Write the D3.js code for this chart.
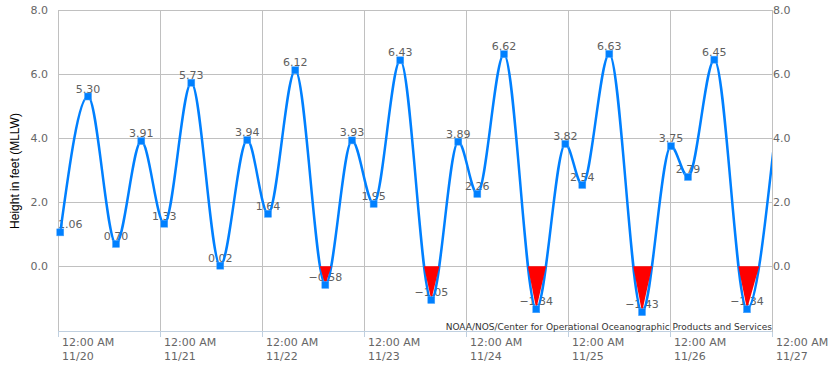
<!DOCTYPE html>
<html>
<head>
<meta charset="utf-8">
<script src="https://cdn.jsdelivr.net/npm/d3@7"></script>
<style>
  body { margin: 0; background: #fff; }
  #chart { width: 834px; height: 388px; }
  text { font-family: "DejaVu Sans", Verdana, sans-serif; }
</style>
</head>
<body>
<div id="chart"></div>
<script>
// tide predictions (high / low), 11/20 - 11/27
const tideTimes = [
    "11/20 00:32", "11/20 07:04", "11/20 13:39", "11/20 19:36",
    "11/21 01:00", "11/21 07:22", "11/21 14:11", "11/21 20:32",
    "11/22 01:25", "11/22 07:50", "11/22 14:54", "11/22 21:11",
    "11/23 02:16", "11/23 08:32", "11/23 15:50", "11/23 22:11",
    "11/24 02:40", "11/24 08:56", "11/24 16:32", "11/24 23:23",
    "11/25 03:22", "11/25 09:43", "11/25 17:25",
    "11/26 00:14", "11/26 04:14", "11/26 10:26", "11/26 18:07",
    "11/27 00:22"
];
const tideHeights = [
    1.06, 5.30, 0.70, 3.91,
    1.33, 5.73, 0.02, 3.94,
    1.64, 6.12, -0.58, 3.93,
    1.95, 6.43, -1.05, 3.89,
    2.26, 6.62, -1.34, 3.82,
    2.54, 6.63, -1.43,
    3.75, 2.79, 6.45, -1.34,
    3.68
];
const dayTicks = ["11/20", "11/21", "11/22", "11/23", "11/24", "11/25", "11/26", "11/27"];
const yTicks = [0, 2, 4, 6, 8];
const yTitle = "Height in feet (MLLW)";
const credits = "NOAA/NOS/Center for Operational Oceanographic Products and Services";

const parseTime = d3.timeParse("%m/%d %H:%M");
const parseDay = d3.timeParse("%m/%d");

const data = tideTimes.map((t, i) => ({ t: parseTime(t), v: tideHeights[i] }));
const days = dayTicks.map(parseDay);

const width = 834, height = 388;
const plot = { left: 58, right: 772, top: 10, bottom: 332 };

const svg = d3.select("#chart").append("svg")
    .attr("width", width)
    .attr("height", height);

const x = d3.scaleTime()
    .domain([days[0], days[days.length - 1]])
    .range([plot.left, plot.right]);
const y = d3.scaleLinear()
    .domain([-2.05, 8])
    .range([plot.bottom, plot.top]);

svg.append("defs").append("clipPath").attr("id", "clip")
    .append("rect")
    .attr("x", plot.left).attr("y", plot.top)
    .attr("width", plot.right - plot.left)
    .attr("height", plot.bottom - plot.top);

// horizontal grid
svg.append("g").selectAll("line")
    .data(yTicks).enter().append("line")
    .attr("x1", plot.left).attr("x2", plot.right)
    .attr("y1", d => y(d)).attr("y2", d => y(d))
    .attr("stroke", "#c0c0c0").attr("stroke-width", 1)
    .attr("shape-rendering", "crispEdges");

// vertical grid
svg.append("g").selectAll("line")
    .data(days).enter().append("line")
    .attr("x1", d => x(d)).attr("x2", d => x(d))
    .attr("y1", plot.top).attr("y2", plot.bottom)
    .attr("stroke", "#c0c0c0").attr("stroke-width", 1)
    .attr("shape-rendering", "crispEdges");

// x axis line + ticks
svg.append("line")
    .attr("x1", plot.left).attr("x2", plot.right)
    .attr("y1", plot.bottom - 0.5).attr("y2", plot.bottom - 0.5)
    .attr("stroke", "#c0d0e0");
svg.append("g").selectAll("line")
    .data(days).enter().append("line")
    .attr("x1", d => x(d)).attr("x2", d => x(d))
    .attr("y1", plot.bottom).attr("y2", plot.bottom + 5)
    .attr("stroke", "#c0d0e0")
    .attr("shape-rendering", "crispEdges");

const xLabels = svg.append("g").selectAll("text")
    .data(days).enter().append("text")
    .attr("x", d => x(d) + 4)
    .attr("font-size", "11px")
    .attr("fill", "#666");
xLabels.append("tspan")
    .attr("x", d => x(d) + 4).attr("y", plot.bottom + 14)
    .text(d => d3.timeFormat("%I:%M %p")(d));
xLabels.append("tspan")
    .attr("x", d => x(d) + 4).attr("y", plot.bottom + 28)
    .text(d => d3.timeFormat("%m/%d")(d));

// y labels both sides
svg.append("g").selectAll("text")
    .data(yTicks).enter().append("text")
    .attr("x", plot.left - 10)
    .attr("y", d => y(d) + 4)
    .attr("text-anchor", "end")
    .attr("font-size", "11px")
    .attr("fill", "#666")
    .text(d => d3.format(".1f")(d));
svg.append("g").selectAll("text")
    .data(yTicks).enter().append("text")
    .attr("x", plot.right + 1)
    .attr("y", d => y(d) + 4)
    .attr("font-size", "11px")
    .attr("fill", "#666")
    .text(d => d3.format(".1f")(d));

svg.append("text")
    .attr("transform", "translate(19," + ((plot.top + plot.bottom) / 2) + ") rotate(-90)")
    .attr("text-anchor", "middle")
    .style("font-family", "'Liberation Sans', Arial, sans-serif")
    .attr("font-size", "12px")
    .attr("fill", "#000")
    .text(yTitle);

// data labels (drawn under the line and red fill)
const shown = data.filter(d => d.t < days[days.length - 1]);
svg.append("g").selectAll("text")
    .data(shown).enter().append("text")
    .attr("y", d => y(d.v) - 4)
    .attr("text-anchor", "middle")
    .attr("font-size", "11px")
    .attr("fill", "#606060")
    .text(d => d3.format(".2f")(d.v).replace("-", "\u2212"))
    .each(function (d) {
        const w = this.getComputedTextLength();
        let cx = x(d.t);
        cx = Math.max(cx, plot.left + w / 2);
        cx = Math.min(cx, plot.right - w / 2);
        d3.select(this).attr("x", cx);
    });

// tide curve
const line = d3.line()
    .x(d => x(d.t))
    .y(d => y(d.v))
    .curve(d3.curveMonotoneX);

const path = svg.append("path")
    .datum(data)
    .attr("clip-path", "url(#clip)")
    .attr("d", line)
    .attr("fill", "none")
    .attr("stroke", "#0080ff")
    .attr("stroke-width", 2.5);

// red fill where the curve goes below 0
const node = path.node();
const total = node.getTotalLength();
const samples = [];
for (let l = 0; l <= total; l += 0.5) {
    const p = node.getPointAtLength(l);
    samples.push([p.x, p.y]);
}
const y0 = y(0);
function crossing(a, b) {
    for (let k = 1; k < samples.length; k++) {
        const p = samples[k - 1], q = samples[k];
        if (p[0] < a || q[0] > b) continue;
        if ((p[1] - y0) * (q[1] - y0) <= 0 && p[1] !== q[1]) {
            const f = (y0 - p[1]) / (q[1] - p[1]);
            return p[0] + f * (q[0] - p[0]);
        }
    }
    return null;
}
const lows = [];
data.forEach((d, i) => {
    if (d.v < 0 && i > 0 && i < data.length - 1) {
        const xl = crossing(x(data[i - 1].t), x(d.t));
        const xr = crossing(x(d.t), x(data[i + 1].t));
        lows.push([[xl, y0], [x(d.t), y(d.v)], [xr, y0]]);
    }
});
svg.append("g").attr("clip-path", "url(#clip)")
    .selectAll("path")
    .data(lows).enter().append("path")
    .attr("d", d => d3.line()(d) + "Z")
    .attr("fill", "#ff0000");

// markers
svg.append("g").selectAll("rect")
    .data(shown).enter().append("rect")
    .attr("x", d => x(d.t) - 3.5)
    .attr("y", d => y(d.v) - 3.5)
    .attr("width", 7).attr("height", 7)
    .attr("fill", "#0080ff")
    .attr("stroke", "#4aa3ff")
    .attr("stroke-width", 0.5);

// credits
svg.append("text")
    .attr("x", plot.right)
    .attr("y", plot.bottom - 2)
    .attr("text-anchor", "end")
    .attr("font-size", "9px")
    .attr("fill", "#333")
    .text(credits);
</script>
</body>
</html>
